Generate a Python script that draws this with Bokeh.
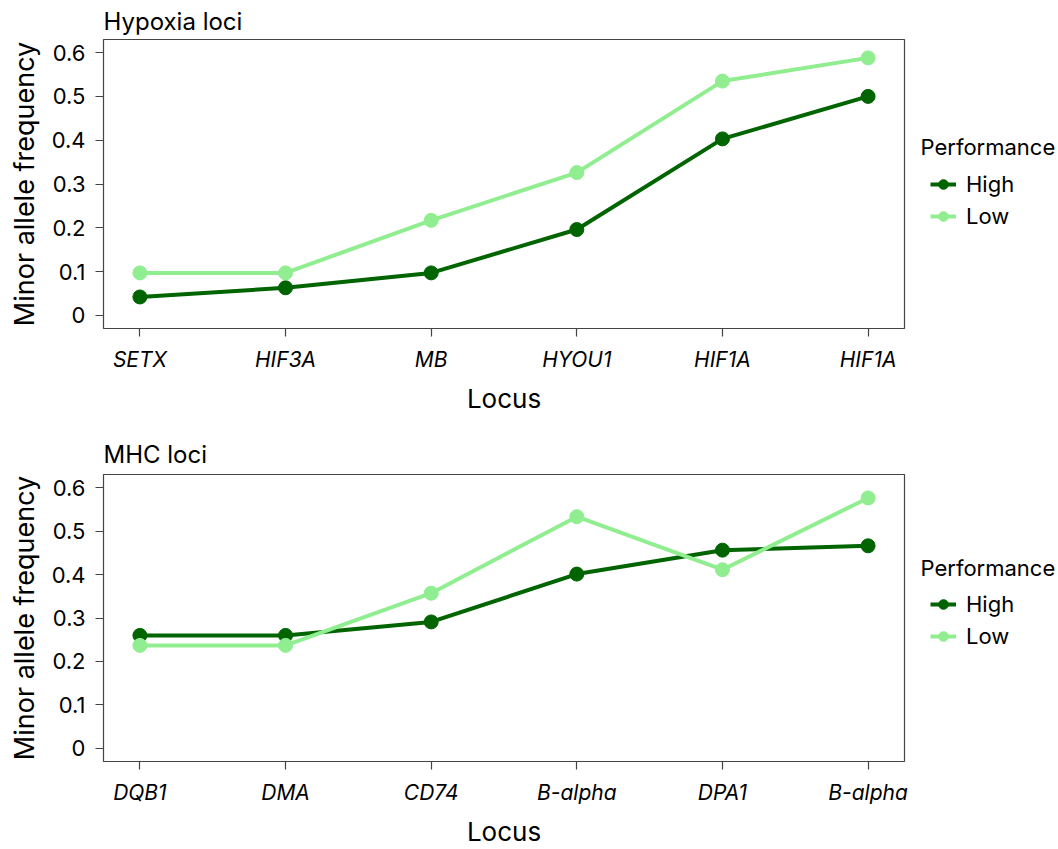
from bokeh.plotting import figure
from bokeh.models import Legend, LegendItem, FixedTicker, Range1d, ColumnDataSource, Label
from bokeh.layouts import column, row
from bokeh.embed import file_html
from bokeh.resources import INLINE

# ---- data ----
hyp_loci = ["SETX", "HIF3A", "MB", "HYOU1", "HIF1A", "HIF1A"]
hyp_high = [0.042, 0.063, 0.097, 0.196, 0.403, 0.500]
hyp_low = [0.097, 0.097, 0.217, 0.326, 0.535, 0.588]

mhc_loci = ["DQB1", "DMA", "CD74", "B-alpha", "DPA1", "B-alpha"]
mhc_high = [0.260, 0.260, 0.291, 0.401, 0.456, 0.466]
mhc_low = [0.237, 0.237, 0.357, 0.533, 0.411, 0.576]

y_ticks = [0, 0.1, 0.2, 0.3, 0.4, 0.5, 0.6]
y_tick_labels = ["0", "0.1", "0.2", "0.3", "0.4", "0.5", "0.6"]
series_names = ["High", "Low"]
series_colors = ["#006400", "#90EE90"]
legend_title = "Performance"

FONT = "Inter"
LINE_W = 4
MARK = 14
FRAME_H = 289
LEG_W = 146


def make_panel(title, loci, high, low, height, border_top, border_bottom,
               title_standoff, legend_title_y, legend_y):
    xs = list(range(1, len(loci) + 1))
    p = figure(width=912, height=height, output_backend="svg", toolbar_location=None,
               x_range=Range1d(0.75, len(loci) + 0.25), y_range=Range1d(-0.03, 0.63),
               min_border_left=103, min_border_right=8,
               min_border_top=border_top, min_border_bottom=border_bottom)
    p.title.text = title
    p.title.text_font = FONT
    p.title.text_font_size = "24px"
    p.title.text_font_style = "normal"
    p.title.text_color = "black"
    p.title.offset = 0
    p.title.standoff = title_standoff

    p.grid.visible = False
    p.outline_line_color = "#444444"
    p.outline_line_width = 1.2
    p.background_fill_color = "white"

    for vals, col in zip([high, low], series_colors):
        p.line(xs, vals, line_color=col, line_width=LINE_W)
        p.scatter(xs, vals, size=MARK, fill_color=col, line_color=col)

    xa = p.xaxis[0]
    xa.ticker = FixedTicker(ticks=xs)
    xa.major_label_overrides = {x: lab for x, lab in zip(xs, loci)}
    xa.major_label_text_font_style = "italic"
    ya = p.yaxis[0]
    ya.ticker = FixedTicker(ticks=y_ticks)
    ya.major_label_overrides = {t: lab for t, lab in zip(y_ticks, y_tick_labels)}

    for ax in (xa, ya):
        ax.axis_line_color = None
        ax.major_tick_line_color = "#444444"
        ax.major_tick_line_width = 1.2
        ax.major_tick_out = 8
        ax.major_tick_in = 0
        ax.minor_tick_line_color = None
        ax.major_label_text_font = FONT
        ax.major_label_text_color = "black"
        ax.axis_label_text_font = FONT
        ax.axis_label_text_font_style = "normal"
        ax.axis_label_text_color = "black"
    xa.major_label_text_font_size = "21px"
    ya.major_label_text_font_size = "22px"
    xa.axis_label_text_font_size = "26px"
    ya.axis_label_text_font_size = "27px"
    xa.axis_label = "Locus"
    xa.major_label_standoff = 10
    xa.axis_label_standoff = 8
    ya.axis_label = "Minor allele frequency"
    ya.major_label_standoff = 10
    ya.axis_label_standoff = 8

    # legend lives in a narrow companion figure to the right (its frame aligns with p's)
    lf = figure(width=LEG_W, height=height, output_backend="svg", toolbar_location=None,
                x_range=Range1d(0, LEG_W), y_range=Range1d(FRAME_H, 0),
                min_border_left=0, min_border_right=0,
                min_border_top=border_top, min_border_bottom=border_bottom,
                outline_line_color=None)
    lf.axis.visible = False
    lf.grid.visible = False
    items = []
    for name, col in zip(series_names, series_colors):
        src = ColumnDataSource(data=dict(x=[-1000, -999], y=[-1000, -999]))
        l = lf.line("x", "y", source=src, line_color=col, line_width=LINE_W)
        s = lf.scatter("x", "y", source=src, size=MARK, fill_color=col, line_color=col)
        items.append(LegendItem(label=name, renderers=[l, s]))
    legend = Legend(items=items, location=(18, legend_y),
                    label_text_font=FONT, label_text_font_size="22px",
                    label_text_color="black",
                    glyph_width=26, glyph_height=24, label_standoff=10,
                    spacing=6, padding=0, margin=0,
                    border_line_color=None, background_fill_alpha=0)
    lf.add_layout(legend, "center")
    lf.add_layout(Label(x=8, y=legend_title_y, text=legend_title,
                        text_font=FONT, text_font_size="22px", text_color="black",
                        text_baseline="middle", text_align="left"))
    return row(p, lf, spacing=0)


r1 = make_panel("Hypoxia loci", hyp_loci, hyp_high, hyp_low, 420, 39, 92, 8, 107, 99)
r2 = make_panel("MHC loci", mhc_loci, mhc_high, mhc_low, 429, 54, 86, 12, 94, 112)

layout = column(r1, r2, spacing=0)
open("out.html", "w").write(file_html(layout, INLINE))
